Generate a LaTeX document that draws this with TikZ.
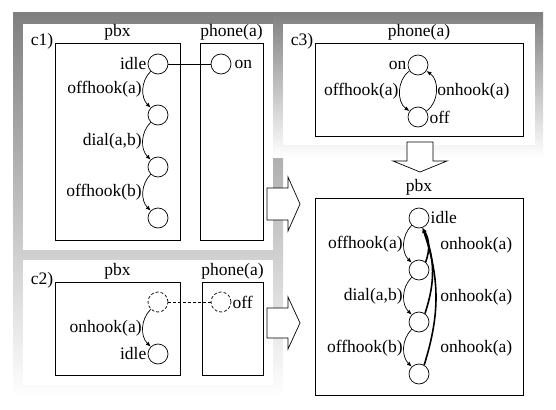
\documentclass[tikz,border=0pt]{standalone}
\usepackage{fontspec}
\setmainfont{Liberation Serif}
\usetikzlibrary{arrows.meta,positioning}
\tikzset{>={Latex[width=4pt,length=5pt]}}
\definecolor{shade}{gray}{0.66}

\begin{document}
\begin{tikzpicture}[x=1pt,y=-1pt,line width=0.7pt,
  every node/.style={font=\rmfamily\fontsize{17.5}{20}\selectfont,inner sep=1pt},
  state/.style={circle,draw,minimum size=20pt,inner sep=0pt},
  ghost/.style={state,dash pattern=on 3pt off 2pt},
  box/.style={draw,inner sep=0pt},
  back/.style={->,line width=1.6pt},
  hollow/.style={draw,fill=white}]

\useasboundingbox (0,0) rectangle (556,409);

\fill[shade] (13,13) rectangle (283,397);
\fill[shade] (273,13) rectangle (543,157);
\fill[white] (23,24) rectangle (273,250);
\fill[white] (23,260) rectangle (273,385);
\fill[white] (283,24) rectangle (535,145);

\node[box,minimum width=125pt,minimum height=197pt] (p1) at (117.5,141.5) {};
\node[box,minimum width=63pt,minimum height=197pt] (f1) at (231.5,141.5) {};
\node[box,minimum width=125pt,minimum height=93pt] (p2) at (117.5,328.5) {};
\node[box,minimum width=61pt,minimum height=93pt] (f2) at (232.5,328.5) {};
\node[box,minimum width=208pt,minimum height=93pt] (f3) at (419,89.5) {};
\node[box,minimum width=208pt,minimum height=197pt] (p4) at (419,296.5) {};

\node[above=1pt of p1] (p1name) {pbx};
\node[above=1pt of f1] (f1name) {phone(a)};
\node[above=1pt of p2] (p2name) {pbx};
\node[above=1pt of f2] (f2name) {phone(a)};
\node[above=1pt of f3] (f3name) {phone(a)};
\node[above=1pt of p4] (p4name) {pbx};
\node[anchor=base east] (t1) at ([yshift=-3pt]p1.north west) {c1)};
\node[anchor=base east] (t2) at ([yshift=-3pt]p2.north west) {c2)};
\node[anchor=base east] (t3) at ([yshift=-3pt]f3.north west) {c3)};

% c1
\node[state] (a1) at (158,64) {};
\node[state] (a2) at (158,115) {};
\node[state] (a3) at (158,167) {};
\node[state] (a4) at (158,218) {};
\node[state] (on1) at (221,64) {};
\node[left=0pt of a1] (a1name) {idle};
\node[right=2pt of on1] (on1name) {on};
\draw (a1) -- (on1);
\draw[->] (a1) to[bend right=45] node[left] (a12) {offhook(a)} (a2);
\draw[->] (a2) to[bend right=45] node[left] (a23) {dial(a,b)} (a3);
\draw[->] (a3) to[bend right=45] node[left] (a34) {offhook(b)} (a4);

% c2
\node[ghost] (b1) at (158,302) {};
\node[state] (b2) at (158,354) {};
\node[ghost] (off2) at (221,302) {};
\node[left=0pt of b2] (b2name) {idle};
\node[right=0pt of off2] (off2name) {off};
\draw[dash pattern=on 3pt off 2pt] (b1) -- (off2);
\draw[->] (b1) to[bend right=45] node[left] (b12) {onhook(a)} (b2);

% c3
\node[state] (on3) at (418,65) {};
\node[state] (off3) at (418,117) {};
\node[left=0pt of on3] (on3name) {on};
\node[right=0pt of off3] (off3name) {off};
\draw[->] (on3) to[bend right=55] node[left] (on3off) {offhook(a)} (off3);
\draw[->] (off3) to[bend right=55] node[right] (off3on) {onhook(a)} (on3);

% result
\node[state] (r1) at (419,218) {};
\node[state] (r2) at (419,270) {};
\node[state] (r3) at (419,322) {};
\node[state] (r4) at (419,374) {};
\node[right=0pt of r1] (r1name) {idle};
\draw[->] (r1) to[bend right=45] node[left] (r12) {offhook(a)} (r2);
\draw[->] (r2) to[bend right=45] node[left] (r23) {dial(a,b)} (r3);
\draw[->] (r3) to[bend right=45] node[left] (r34) {offhook(b)} (r4);
\draw[back] (r2.50) to[bend right=25] (r1.-70);
\draw[back] (r3.55) to[bend right=20] (r1.-70);
\draw[back] (r4.60) to[bend right=18] (r1.-70);
\node[anchor=west] (r21) at (439,245) {onhook(a)};
\node[anchor=west] (r31) at (439,297) {onhook(a)};
\node[anchor=west] (r41) at (439,348) {onhook(a)};

\draw[hollow] (267,188) -- (288,188) -- (288,177) -- (300,204) -- (288,231)
  -- (288,220) -- (267,220) -- cycle;
\draw[hollow] (267,308) -- (288,308) -- (288,297) -- (300,323) -- (288,349)
  -- (288,338) -- (267,338) -- cycle;
\draw[hollow] (407,142) -- (433,142) -- (433,161) -- (447,161) -- (420,172)
  -- (393,161) -- (407,161) -- cycle;
\end{tikzpicture}
\end{document}
